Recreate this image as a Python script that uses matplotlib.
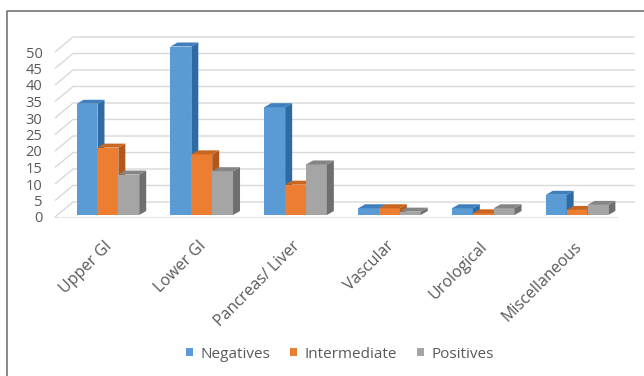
import matplotlib
matplotlib.use("Agg")
import matplotlib.pyplot as plt
from matplotlib.patches import Polygon, Rectangle
from matplotlib.lines import Line2D

plt.rcParams['font.family'] = ['Open Sans', 'DejaVu Sans']

categories = ["Upper GI", "Lower GI", "Pancreas/ Liver", "Vascular", "Urological", "Miscellaneous"]
series_names = ["Negatives", "Intermediate", "Positives"]
negatives = [33, 50, 32, 2, 2, 6]
intermediate = [20, 18, 9, 2, 0.5, 1.5]
positives = [12, 13, 15, 1, 2, 3]
y_ticks = [0, 5, 10, 15, 20, 25, 30, 35, 40, 45, 50]

front_colors = ["#5B9BD5", "#ED7D31", "#A5A5A5"]
side_colors = ["#2F6BA3", "#B3581D", "#6F6F6F"]
top_colors = ["#3F7FBE", "#C9661F", "#858585"]
text_color = "#595959"

W, H = 644, 376
fig = plt.figure(figsize=(W / 100, H / 100), dpi=100)

# ---------- wall / gridlines axes ----------
px_unit_wall = 3.3
wall_left, wall_right, wall_zero = 55, 635, 217
wall_top_val = 56
ax_wall = fig.add_axes([wall_left / W, 1 - wall_zero / H, (wall_right - wall_left) / W,
                        wall_top_val * px_unit_wall / H])
ax_wall.set_xlim(0, 1)
ax_wall.set_ylim(0, wall_top_val)
for s in ax_wall.spines.values():
    s.set_visible(False)
ax_wall.set_xticks([])
ax_wall.set_yticks(y_ticks)
ax_wall.set_yticklabels([str(v) for v in y_ticks])
ax_wall.tick_params(axis='y', length=0, pad=9, labelsize=10.5, labelcolor=text_color)
ax_wall.patch.set_visible(False)

depth_x = 18 / (wall_right - wall_left)
depth_y = 15 / px_unit_wall
grid_color = "#D9D9D9"
for v in y_ticks:
    ax_wall.plot([0, depth_x, 1], [v, v + depth_y, v + depth_y], color=grid_color, lw=1.0,
                 solid_capstyle='butt', clip_on=False)
# front floor edge
ax_wall.plot([0, 1 - depth_x], [0, 0], color="#E4E4E4", lw=0.8, clip_on=False)

# ---------- bars axes ----------
px_unit_bar = 3.37
bar_left, bar_right, bar_zero = 61, 624, 215
bar_top_val = 55
ax = fig.add_axes([bar_left / W, 1 - bar_zero / H, (bar_right - bar_left) / W,
                   bar_top_val * px_unit_bar / H])
ax.set_xlim(-0.5, len(categories) - 0.5)
ax.set_ylim(0, bar_top_val)
ax.axis('off')

cat_px = (bar_right - bar_left) / len(categories)
dx = 7 / cat_px
dy = 4 / px_unit_bar
bw = (2 / 3) / 3
series = [negatives, intermediate, positives]
for ci in range(len(categories)):
    for si, vals in enumerate(series):
        v = vals[ci]
        xl = ci + (si - 1.5) * bw
        xr = xl + bw
        z = 3 + si
        ax.bar(xl, v, width=bw, align='edge', color=front_colors[si], zorder=z, lw=0)
        ax.add_patch(Polygon([(xr, 0), (xr, v), (xr + dx, v + dy), (xr + dx, dy)],
                             closed=True, facecolor=side_colors[si], lw=0, zorder=z))
        ax.add_patch(Polygon([(xl, v), (xr, v), (xr + dx, v + dy), (xl + dx, v + dy)],
                             closed=True, facecolor=top_colors[si], lw=0, zorder=z))

# ---------- category labels (end at each category centre) ----------
label_trans = ax.get_xaxis_transform()
for i, c in enumerate(categories):
    ax.annotate(c, xy=(i, 0), xycoords=label_trans, xytext=(2, -29),
                textcoords='offset pixels', rotation=45, rotation_mode='anchor',
                ha='right', va='center', fontsize=11.5, color=text_color,
                annotation_clip=False)

# ---------- legend ----------
handles = [Rectangle((0, 0), 1, 1, facecolor=col, lw=0) for col in front_colors]
fig.legend(handles, series_names, loc='center', bbox_to_anchor=(340 / W, 1 - 354 / H),
           ncol=3, frameon=False, fontsize=11, labelcolor=text_color,
           handlelength=0.46, handleheight=0.46, handletextpad=0.5, columnspacing=1.3)

# ---------- outer frame ----------
fig.add_artist(Line2D([7 / W, 7 / W, 1.0], [0.0, 1 - 11 / H, 1 - 11 / H],
                      transform=fig.transFigure, color="#7F7F7F", lw=1.3))

fig.savefig("out.png", dpi=100, facecolor="white")
